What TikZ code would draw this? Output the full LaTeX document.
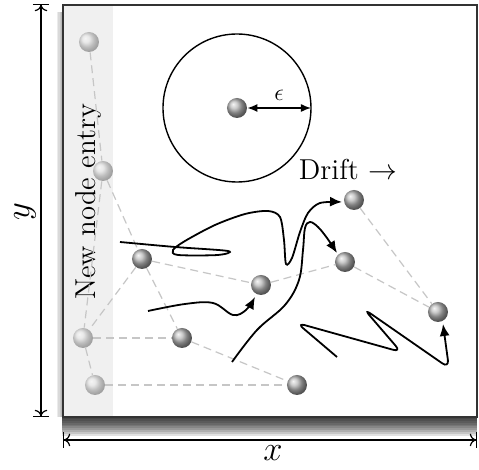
\documentclass[tikz,border=0pt]{standalone}
\usepackage{amsmath,amssymb}
\usepackage{tikz}
\usetikzlibrary{arrows.meta,positioning,calc}

\begin{document}
\begin{tikzpicture}[x=0.5pt, y=-0.5pt,
  nd/.style={circle, shading=ball, ball color=gray!55, minimum size=10pt, inner sep=0pt},
  nn/.style={nd, ball color=gray!30, opacity=0.55},
  lk/.style={gray!45, dash pattern=on 4pt off 2.5pt, line width=0.6pt},
  tr/.style={line width=0.9pt, -{Latex[length=6pt,width=5pt]}},
  ax/.style={line width=0.6pt, {Bar[width=8pt]To[length=3pt]}-{To[length=3pt]Bar[width=8pt]}}]
\useasboundingbox (0,0) rectangle (479,470);
% box with shadow and entry band
\foreach \i in {1,...,10}
  \fill[black, opacity=0.12] (62,417) rectangle (477,417+\i*1.9);
\foreach \i in {1,...,4}
  \fill[black, opacity=0.08] (63-\i*1.5,12) rectangle (63,417);
\fill[white] (63,5) rectangle (477,417);
\fill[gray!12] (63,5) rectangle (113,417);
\draw[black!80, line width=0.8pt] (63,5) rectangle (477,417);
% axes
\coordinate (yt) at (41,4); \coordinate (yb) at (41,417);
\coordinate (xa) at (63,440); \coordinate (xb) at (477,440);
\draw[ax] (yt)--(yb); \draw[ax] (xa)--(xb);
\node[font=\LARGE] (xlab) at (273,453) {$x$};
\node[font=\LARGE, rotate=90] (ylab) at (25,212) {$y$};
\node[font=\Large, rotate=90] (entry) at (88,202) {New node entry};
% nodes
\node[nn] (n1) at (89,42) {}; \node[nn] (n2) at (103,171) {};
\node[nn] (n3) at (83,338) {}; \node[nn] (n4) at (95,385) {};
\node[nd] (a) at (142,259) {}; \node[nd] (b) at (182,338) {};
\node[nd] (c) at (261,285) {}; \node[nd] (d) at (345,262) {};
\node[nd] (e) at (354,200) {}; \node[nd] (f) at (438,312) {};
\node[nd] (g) at (297,385) {}; \node[nd] (o) at (237,108) {};
\draw[lk] (n1)--(n2); \draw[lk] (n2)--(a); \draw[lk] (n2)--(n3);
\draw[lk] (a)--(n3); \draw[lk] (n3)--(n4); \draw[lk] (n3)--(b);
\draw[lk] (a)--(b); \draw[lk] (a)--(c); \draw[lk] (b)--(g);
\draw[lk] (n4)--(g); \draw[lk] (c)--(d); \draw[lk] (d)--(f);
\draw[lk] (e)--(f);
% epsilon neighbourhood
\draw[line width=0.7pt] (o) circle[radius=74];
\coordinate (rim) at (311,108);
\draw[line width=0.7pt, {Latex[length=5pt,width=4pt]}-{Latex[length=5pt,width=4pt]}] (o)--node[above,font=\large]{$\epsilon$}(rim);
\node[font=\Large] (drift) at (348,170) {Drift $\rightarrow$};
% drift trajectories
\draw[tr] plot[smooth, tension=0.6] coordinates {(148,311) (185,304) (213,303) (233,315) (246,310) (255,297)};
\draw[tr] plot[smooth, tension=0.5] coordinates {(120,242) (175,247) (228,251) (218,255) (178,255) (173,250) (185,241) (215,225) (245,214) (268,211) (280,217) (284,240) (286,264) (292,258) (300,232) (308,213) (320,203) (342,202)};
\draw[tr] plot[smooth, tension=0.6] coordinates {(232,362) (257,330) (285,305) (299,280) (303,250) (305,228) (310,222) (318,227) (327,238) (337,253)};
\draw[tr, rounded corners=4pt] (337,357) -- (297,323) -- (401,352) -- (364,309) -- (449,368) -- (443,324);
\end{tikzpicture}
\end{document}
